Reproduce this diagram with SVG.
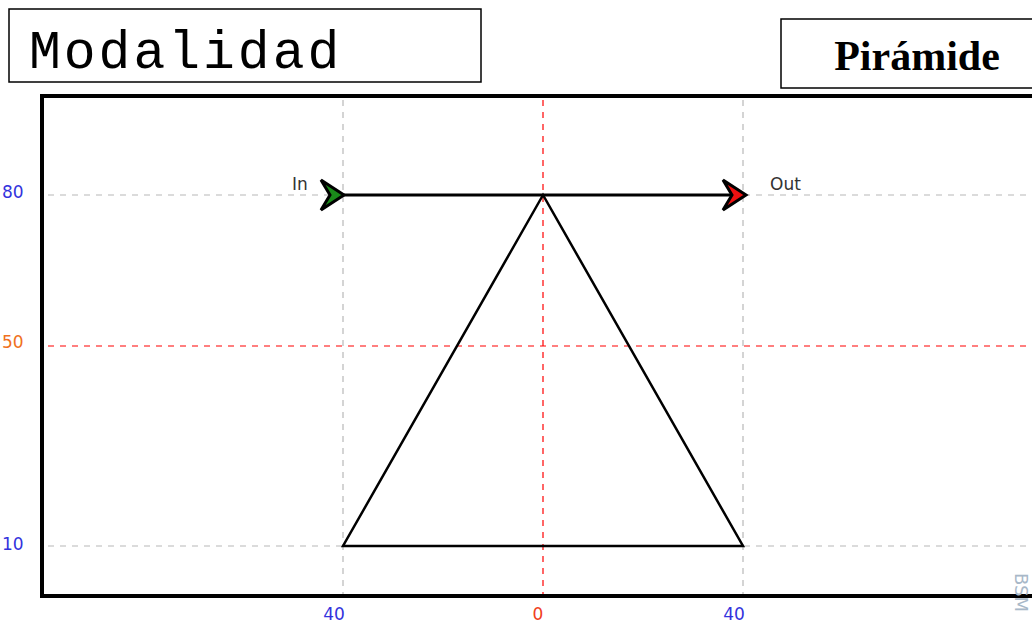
<svg xmlns="http://www.w3.org/2000/svg" width="1032" height="622" viewBox="0 0 1032 622">
<style>
.box{fill:#fff;stroke:#000;stroke-width:1.5}
.grid{stroke:#b8b8b8;stroke-width:1.2;stroke-dasharray:6 6;fill:none}
.gridr{stroke:#f00;stroke-width:1.2;stroke-dasharray:6 6;fill:none}
.frame{stroke:#000;stroke-width:4;fill:none}
.ax{font-family:"DejaVu Sans",Verdana,sans-serif;font-size:17px}
.lbl{font-family:"DejaVu Sans",Verdana,sans-serif;font-size:17px;fill:#333}
</style>
<rect width="1032" height="622" fill="#fff"/>
<g id="title-modalidad">
<rect class="box" x="9" y="9" width="472" height="73"/>
<text x="29" y="68" font-family="Liberation Mono,Courier New,monospace" font-size="53" letter-spacing="3" fill="#000">Modalidad</text>
</g>
<g id="title-piramide">
<rect class="box" x="781" y="19" width="260" height="69"/>
<text x="917" y="70" text-anchor="middle" font-family="Liberation Serif,Times New Roman,serif" font-weight="bold" font-size="42" fill="#000">Pirámide</text>
</g>
<g id="grid">
<line class="grid" x1="343" y1="100" x2="343" y2="594"/>
<line class="grid" x1="743" y1="100" x2="743" y2="594"/>
<line class="gridr" x1="543" y1="100" x2="543" y2="594"/>
<line class="grid" x1="48" y1="195" x2="1032" y2="195"/>
<line class="grid" x1="48" y1="546" x2="1032" y2="546"/>
<line class="gridr" x1="48" y1="346" x2="1032" y2="346"/>
</g>
<g id="frame">
<polyline class="frame" points="1032,96 42,96 42,596 1032,596"/>
</g>
<g id="axis-labels">
<text class="ax" x="2" y="198" fill="#3333dd">80</text>
<text class="ax" x="2" y="348" fill="#f07020">50</text>
<text class="ax" x="2" y="550" fill="#3333dd">10</text>
<text class="ax" x="334" y="620" text-anchor="middle" fill="#3333dd">40</text>
<text class="ax" x="538" y="620" text-anchor="middle" fill="#f04020">0</text>
<text class="ax" x="734" y="620" text-anchor="middle" fill="#3333dd">40</text>
<text x="1015" y="573" transform="rotate(90 1015 573)" font-family="DejaVu Sans,Verdana,sans-serif" font-size="18" fill="#a8b8c8">BSM</text>
</g>
<g id="triangle">
<polygon points="543,195 343,546 743,546" fill="none" stroke="#000" stroke-width="2.5"/>
</g>
<g id="connectors">
<line x1="336" y1="195" x2="738" y2="195" stroke="#000" stroke-width="3"/>
<path d="M321,180 L344,195 L321,210 L330,195 Z" fill="#1a8a1a" stroke="#000" stroke-width="3" stroke-linejoin="miter"/>
<path d="M723,180 L746,195 L723,210 L732,195 Z" fill="#ee1111" stroke="#000" stroke-width="3" stroke-linejoin="miter"/>
</g>
<g id="io-labels">
<text class="lbl" x="292" y="190">In</text>
<text class="lbl" x="770" y="190">Out</text>
</g>
</svg>
